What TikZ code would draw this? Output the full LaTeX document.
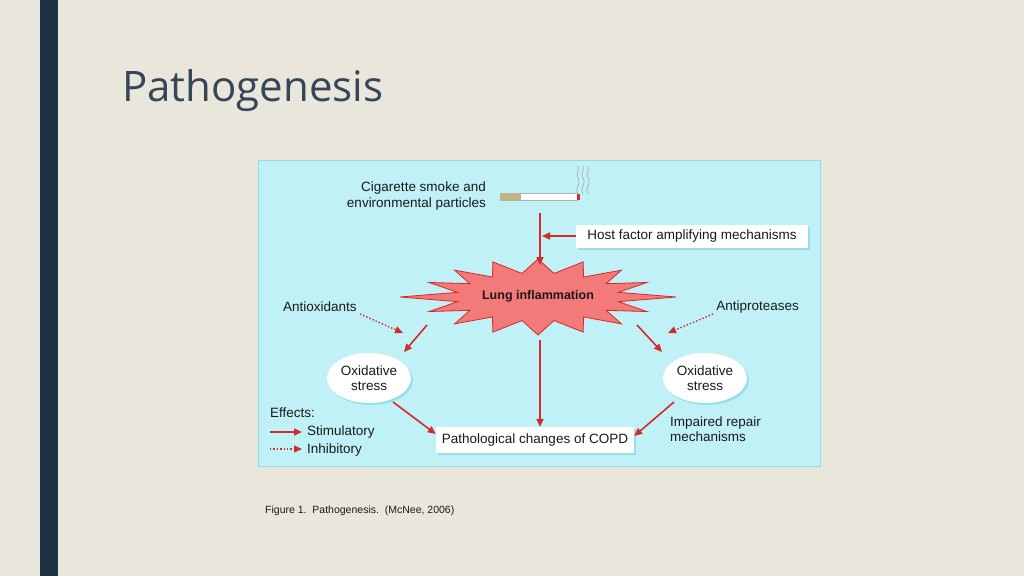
\documentclass[tikz,border=0pt]{standalone}
\usepackage{fontspec}
\setmainfont{Liberation Sans}
\newfontfamily\titlefont{Open Sans}
\usetikzlibrary{shapes.geometric,arrows.meta,shadows}
\definecolor{bg}{HTML}{E9E6DC}
\definecolor{barc}{HTML}{1E3246}
\definecolor{panel}{HTML}{BFF1F6}
\definecolor{panelb}{HTML}{8EDCE6}
\definecolor{arr}{HTML}{D42A2A}
\definecolor{starf}{HTML}{F27A78}
\definecolor{txt}{HTML}{1A1A1A}
\tikzset{
 lbl/.style={font=\fontsize{13.5}{15.5}\selectfont,text=txt,inner sep=0pt},
 stim/.style={draw=arr,line width=1.6pt,-{Triangle[length=8pt,width=7pt]}},
 inhib/.style={draw=arr,line width=1.4pt,dotted,-{Triangle[length=8pt,width=7pt,sep=0pt]}},
 wbox/.style={lbl,fill=white,minimum height=23pt,inner xsep=6pt,drop shadow={shadow xshift=2pt,shadow yshift=-2pt,fill=panelb,opacity=.8}},
 oval/.style={lbl,ellipse,fill=white,minimum width=84pt,minimum height=50pt,align=center,drop shadow={shadow xshift=2pt,shadow yshift=-2pt,fill=panelb,opacity=.8}}
}
\begin{document}
\begin{tikzpicture}[x=1pt,y=-1pt]
\fill[bg] (0,0) rectangle (1024,576);
\useasboundingbox (0,0) rectangle (1024,576);
\fill[barc] (40,0) rectangle (58,576);
\node[anchor=base west,inner sep=0pt,text=barc!90!white,font=\titlefont\fontsize{42}{44}\selectfont] (title) at (122,101) {Pathogenesis};
\draw[panelb,fill=panel,line width=1pt] (258,160) rectangle (820,466);
% cigarette
\node[lbl,align=right,anchor=east] (cig) at (486,196) {Cigarette smoke and\\environmental particles};
\fill[brown!45!olive!60!white,draw=gray!60] (500,193) rectangle (520,200);
\fill[white,draw=gray!60] (520,193) rectangle (577,200);
\fill[arr] (577,193.5) rectangle (580,199.5);
\foreach \dx in {0,5,10}{
 \draw[gray!70,line width=.6pt] (578+\dx,194) .. controls (574+\dx,188) and (582+\dx,184) .. (578+\dx,178) .. controls (575+\dx,174) and (580+\dx,170) .. (578+\dx,166);}
\coordinate (cigbot) at (540,213);
% star
\begin{scope}[shift={(538,297)}]
\fill[starf,draw=arr,line width=.8pt]
 plot[samples at={0,1,...,31}] ({(mod(\x,2)==0 ? (mod(\x,8)==0 ? 138 : 118) : 82)*cos(\x*11.25)},{(mod(\x,2)==0 ? 38 : 24)*sin(\x*11.25)}) -- cycle;
\end{scope}
\node[lbl,font=\bfseries\fontsize{12.5}{14}\selectfont] (lung) at (538,296) {Lung inflammation};
\coordinate (startop) at (540,265);
\draw[stim] (cigbot) -- (startop);
\node[wbox,minimum width=232pt] (host) at (692,236) {Host factor amplifying mechanisms};
\draw[stim] (host.west) -- (542,236);
% sides
\node[lbl,anchor=west] (antiox) at (283,307) {Antioxidants};
\node[lbl,anchor=east] (antipro) at (799,307) {Antiproteases};
\node[oval] (oxl) at (369,378) {Oxidative\\stress};
\node[oval] (oxr) at (705,378) {Oxidative\\stress};
\node[wbox,minimum width=194pt,minimum height=26pt] (copd) at (535,440) {Pathological changes of COPD};
\node[lbl,anchor=west,align=left] (imp) at (670,429) {Impaired repair\\mechanisms};
\coordinate (ax1) at (360,314); \coordinate (ax2) at (403,333);
\coordinate (ap1) at (713,314); \coordinate (ap2) at (668,333);
\draw[inhib] (ax1) -- (ax2);
\draw[inhib] (ap1) -- (ap2);
\coordinate (sl) at (427,325); \coordinate (slt) at (404,352);
\coordinate (sr) at (637,325); \coordinate (srt) at (662,352);
\draw[stim] (sl) -- (slt);
\draw[stim] (sr) -- (srt);
\coordinate (sb) at (540,340);
\draw[stim] (sb) -- (copd.north -| sb);
\draw[stim] (393,402) -- (copd.west |- 0,434);
\draw[stim] (674,402) -- (copd.east |- 0,436);
% legend
\node[lbl,anchor=west] (eff) at (270,413) {Effects:};
\coordinate (l1a) at (270,432); \coordinate (l1b) at (302,432);
\coordinate (l2a) at (270,449); \coordinate (l2b) at (302,449);
\draw[stim] (l1a) -- (l1b);
\draw[inhib] (l2a) -- (l2b);
\node[lbl,anchor=west] (st) at (307,432) {Stimulatory};
\node[lbl,anchor=west] (in) at (307,450) {Inhibitory};
\node[anchor=west,inner sep=0pt,font=\fontsize{10.5}{12}\selectfont,text=txt] (cap) at (265,511) {Figure 1.\ \ Pathogenesis.\ \ (McNee, 2006)};
\end{tikzpicture}
\end{document}
